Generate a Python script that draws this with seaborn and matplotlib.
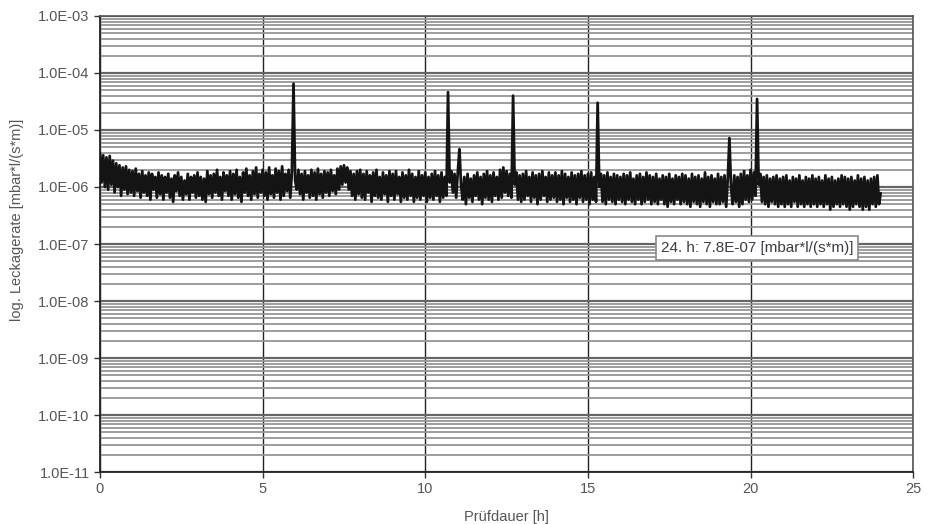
import numpy as np
import pandas as pd
import matplotlib.pyplot as plt
import seaborn as sns
from matplotlib.ticker import FixedLocator, FuncFormatter, NullFormatter

# Leak rate readings every 0.05 h (one row = one hour), in units of 1e-6 mbar*l/(s*m)
leak_e6 = [
    3.9, 1.2, 3.6, 1.0, 3.3, 0.9, 3.5, 1.1, 2.9, 0.8, 2.6, 1.0, 2.4, 0.7, 2.2, 0.9, 2.3, 0.75, 2.0, 0.8,
    1.9, 0.7, 2.1, 0.85, 1.7, 0.65, 1.9, 0.8, 1.6, 0.7, 1.8, 0.6, 1.7, 0.9, 1.5, 0.65, 1.8, 0.75, 1.6, 0.6,
    1.5, 0.8, 1.7, 0.65, 1.4, 0.55, 1.6, 0.85, 1.8, 0.7, 1.5, 0.6, 1.3, 0.75, 1.7, 0.6, 1.5, 0.8, 1.6, 0.65,
    1.8, 0.7, 1.5, 0.6, 1.4, 0.55, 1.9, 0.75, 1.6, 0.65, 1.7, 0.8, 2.0, 0.7, 1.5, 0.6, 1.8, 0.85, 1.6, 0.7,
    1.9, 0.6, 1.7, 0.75, 2.0, 0.65, 1.5, 0.55, 1.8, 0.8, 2.1, 0.7, 1.6, 0.6, 1.9, 0.75, 2.2, 0.65, 1.7, 0.8,
    2.0, 0.7, 1.8, 0.6, 2.2, 0.75, 1.6, 0.65, 2.1, 0.8, 1.9, 0.6, 2.3, 0.7, 1.7, 0.85, 2.0, 0.65, 1.8, 65.0,
    1.3, 0.9, 2.0, 0.75, 1.7, 0.6, 1.9, 0.8, 1.6, 0.65, 2.0, 0.7, 1.8, 0.6, 2.1, 0.75, 1.7, 0.65, 1.9, 0.8,
    1.8, 0.7, 2.0, 0.85, 1.6, 0.75, 2.1, 0.9, 2.3, 1.1, 2.4, 1.2, 2.2, 0.9, 1.9, 0.7, 1.7, 0.6, 1.9, 0.75,
    2.0, 0.65, 1.7, 0.6, 1.9, 0.8, 1.6, 0.55, 1.8, 0.7, 2.0, 0.65, 1.5, 0.6, 1.8, 0.75, 1.6, 0.55, 1.9, 0.7,
    1.7, 0.6, 1.9, 0.75, 1.5, 0.55, 1.8, 0.65, 1.6, 0.6, 2.0, 0.7, 1.7, 0.55, 1.5, 0.65, 1.9, 0.6, 1.6, 0.7,
    1.8, 0.55, 1.5, 0.65, 1.7, 0.6, 1.9, 0.7, 1.6, 0.55, 1.8, 0.65, 1.5, 0.7, 46.0, 1.2, 1.9, 0.8, 1.7, 0.65,
    1.8, 4.6, 1.1, 0.6, 1.5, 0.5, 1.7, 0.65, 1.4, 0.55, 1.6, 0.7, 1.8, 0.6, 1.5, 0.5, 1.7, 0.65, 1.9, 0.6,
    1.6, 0.55, 1.8, 0.7, 1.5, 0.6, 2.0, 0.65, 2.2, 0.8, 1.9, 0.7, 1.7, 0.65, 40.0, 1.1, 1.8, 0.6, 1.6, 0.55,
    1.7, 0.6, 1.9, 0.7, 1.5, 0.55, 1.8, 0.65, 1.6, 0.5, 1.7, 0.6, 1.9, 0.7, 1.5, 0.55, 1.8, 0.6, 1.6, 0.65,
    1.8, 0.55, 1.6, 0.6, 1.9, 0.5, 1.7, 0.65, 1.5, 0.55, 1.8, 0.6, 1.6, 0.5, 1.7, 0.65, 1.9, 0.55, 1.6, 0.6,
    1.7, 0.5, 1.8, 0.6, 1.5, 0.55, 30.0, 1.0, 1.7, 0.55, 1.6, 0.5, 1.8, 0.6, 1.5, 0.55, 1.7, 0.5, 1.6, 0.6,
    1.5, 0.55, 1.7, 0.5, 1.6, 0.6, 1.8, 0.55, 1.4, 0.5, 1.6, 0.6, 1.7, 0.5, 1.5, 0.55, 1.8, 0.6, 1.6, 0.5,
    1.5, 0.55, 1.7, 0.5, 1.4, 0.6, 1.6, 0.5, 1.5, 0.45, 1.7, 0.55, 1.4, 0.5, 1.6, 0.6, 1.5, 0.5, 1.7, 0.55,
    1.6, 0.5, 1.4, 0.45, 1.7, 0.55, 1.5, 0.5, 1.6, 0.45, 1.4, 0.55, 1.8, 0.5, 1.5, 0.45, 1.6, 0.55, 1.4, 0.5,
    1.7, 0.5, 1.5, 0.55, 1.6, 0.45, 1.4, 7.2, 1.0, 0.5, 1.6, 0.55, 1.5, 0.45, 1.7, 0.5, 1.9, 0.6, 1.6, 0.55,
    2.0, 0.6, 1.8, 0.7, 35.0, 1.1, 1.7, 0.55, 1.5, 0.5, 1.6, 0.45, 1.4, 0.55, 1.5, 0.5, 1.6, 0.45, 1.4, 0.5,
    1.5, 0.45, 1.6, 0.5, 1.3, 0.45, 1.5, 0.55, 1.4, 0.45, 1.6, 0.5, 1.3, 0.45, 1.5, 0.5, 1.4, 0.45, 1.6, 0.5,
    1.4, 0.45, 1.5, 0.5, 1.3, 0.45, 1.6, 0.5, 1.4, 0.4, 1.5, 0.45, 1.3, 0.5, 1.4, 0.45, 1.6, 0.5, 1.5, 0.45,
    1.4, 0.4, 1.5, 0.45, 1.3, 0.5, 1.6, 0.45, 1.4, 0.4, 1.5, 0.45, 1.3, 0.4, 1.4, 0.5, 1.5, 0.45, 1.6, 0.5,
    0.78,
]
hours = np.round(np.arange(len(leak_e6)) * 0.05, 2)

x_ticks = [0, 5, 10, 15, 20, 25]
y_decades = [1e-11, 1e-10, 1e-9, 1e-8, 1e-7, 1e-6, 1e-5, 1e-4, 1e-3]
y_minor = [m * d for d in y_decades[:-1] for m in range(2, 10)]

df = pd.DataFrame({'Prüfdauer': hours, 'Leckagerate': np.array(leak_e6) * 1e-6})

sns.set_style('white')
plt.rcParams['font.family'] = ['Liberation Sans', 'DejaVu Sans']

fig = plt.figure(figsize=(9.29, 5.24), dpi=100)
ax = fig.add_axes([0.1076, 0.0992, 0.8754, 0.8703])

sns.lineplot(data=df, x='Prüfdauer', y='Leckagerate', color='#141414',
             linewidth=2.0, ax=ax, zorder=3)

ax.set_yscale('log')
ax.set_ylim(1e-11, 1e-3)
ax.set_xlim(0, 25)
ax.xaxis.set_major_locator(FixedLocator(x_ticks))
ax.yaxis.set_major_locator(FixedLocator(y_decades))
ax.yaxis.set_minor_locator(FixedLocator(y_minor))
ax.yaxis.set_major_formatter(FuncFormatter(lambda v, _: f"{v:.1E}"))
ax.yaxis.set_minor_formatter(NullFormatter())

ax.grid(which='minor', axis='y', color='#959595', linewidth=1.3)
ax.grid(which='major', axis='y', color='#666666', linewidth=1.6)
ax.grid(which='major', axis='x', color='#222222', linewidth=1.0)
ax.set_axisbelow(True)

ax.tick_params(axis='both', which='major', direction='out', length=4, width=1,
               color='#333333', labelsize=10.5, labelcolor='#555555', left=True, bottom=True)
ax.tick_params(axis='y', which='minor', length=0)

for side in ['left', 'bottom']:
    ax.spines[side].set_color('#222222')
    ax.spines[side].set_linewidth(1.3)
for side in ['top', 'right']:
    ax.spines[side].set_color('#555555')
    ax.spines[side].set_linewidth(1.2)

ax.set_xlabel('Prüfdauer [h]', fontsize=10.5, color='#555555', labelpad=10)
ax.set_ylabel('log. Leckagerate [mbar*l/(s*m)]', fontsize=10.5, color='#555555')
ax.yaxis.set_label_coords(-0.093, 0.553)

ax.text(20.2, 8.5e-8, '24. h: 7.8E-07 [mbar*l/(s*m)]', ha='center', va='center',
        fontsize=11, color='#3a3a44', zorder=5,
        bbox=dict(boxstyle='square,pad=0.3', facecolor='white', edgecolor='#8a8a8a', linewidth=1.2))

fig.savefig('out.png', dpi=100)
plt.close(fig)
